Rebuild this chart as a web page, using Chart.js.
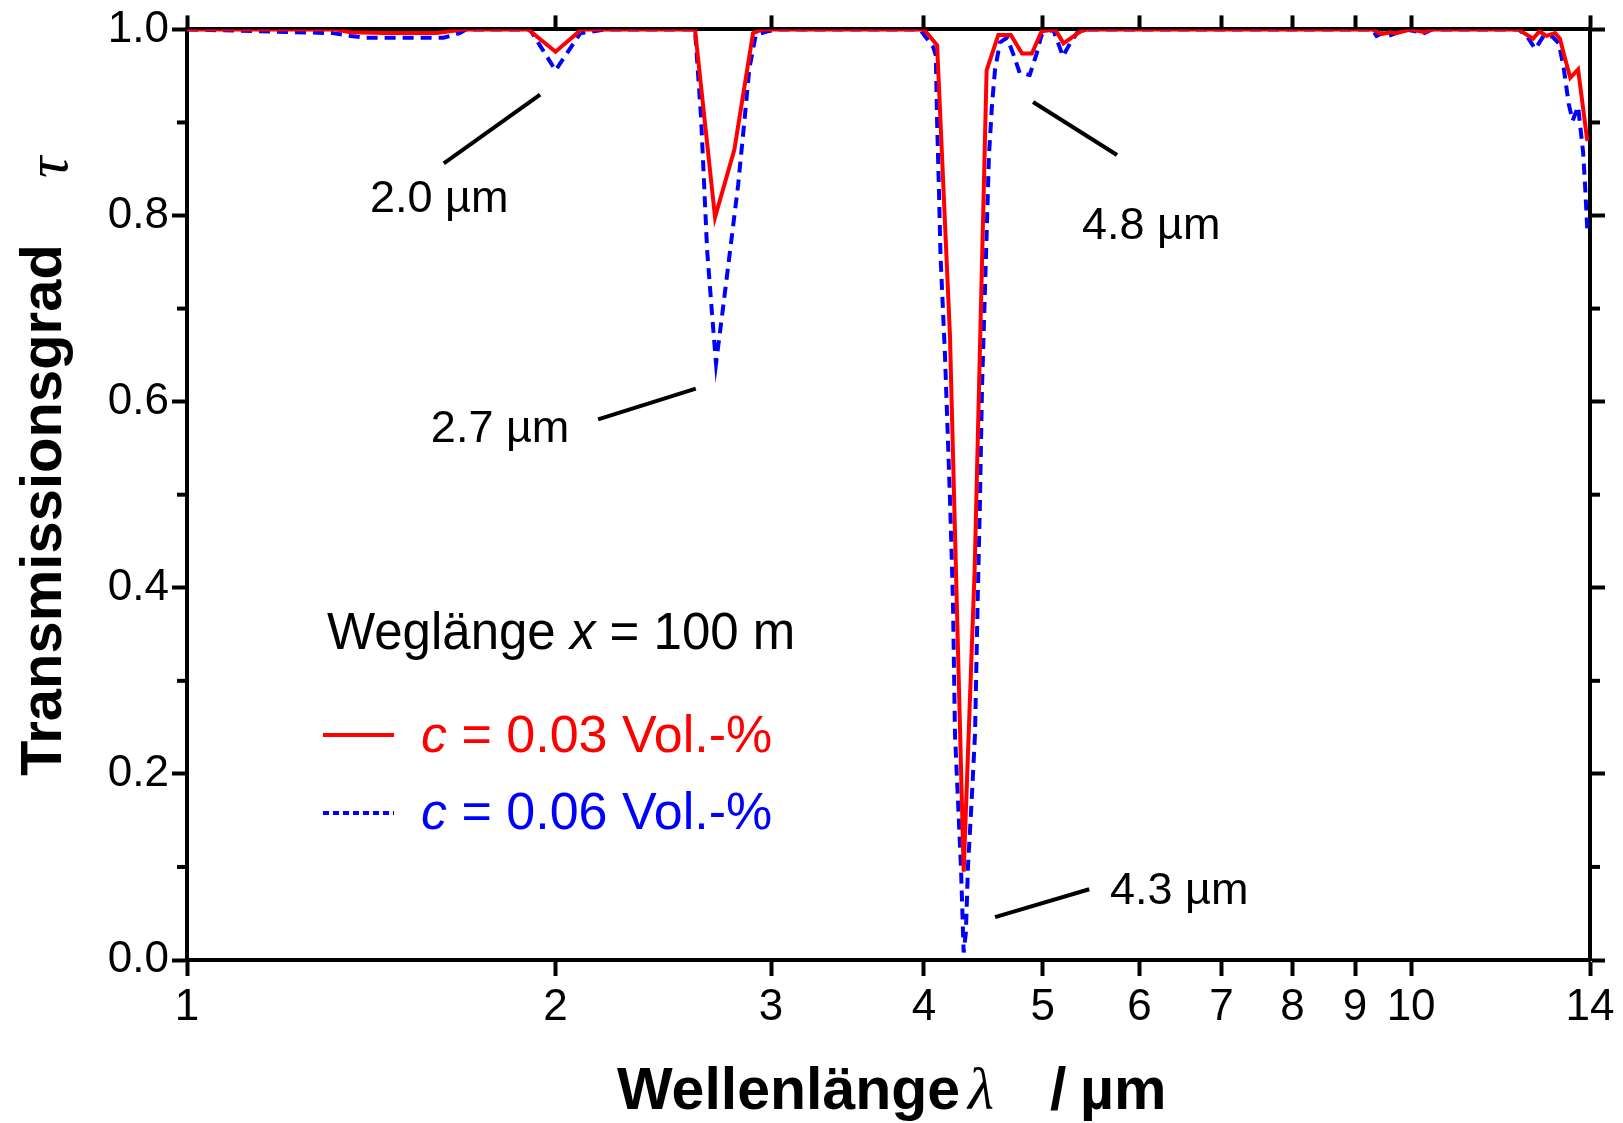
<!DOCTYPE html>
<html>
<head>
  <meta charset="UTF-8">
  <title>Transmissionsgrad CO2</title>
  <script src="https://cdn.jsdelivr.net/npm/chart.js"></script>
  <style>
    body { margin: 0; background: #fff; overflow: hidden; }
    canvas { display: block; }
  </style>
</head>
<body>
  <canvas id="chart" width="1623" height="1123"></canvas>

  <script>
    // Wellenlänge / µm und Transmissionsgrad, c = 0.03 Vol.-%
    const wlRed = [1.0, 1.32, 1.36, 1.45, 1.6, 1.68, 1.9, 2.0, 2.1, 2.2, 2.6, 2.7, 2.8, 2.9, 2.95,
      4.0, 4.1, 4.2, 4.31, 4.4, 4.5, 4.6, 4.71, 4.81, 4.9, 4.99, 5.12, 5.2, 5.37, 5.45,
      9.3, 9.45, 9.62, 9.72, 10.0, 10.25, 10.4,
      12.23, 12.58, 12.73, 12.9, 13.11, 13.23, 13.35, 13.49, 13.69, 13.93];
    const tauRed = [1.0, 1.0, 0.997, 0.996, 0.996, 1.0, 1.0, 0.976, 1.0, 1.0, 1.0, 0.798, 0.871, 0.996, 1.0,
      1.0, 0.983, 0.672, 0.095, 0.42, 0.956, 0.994, 0.994, 0.974, 0.974, 0.998, 1.0, 0.985, 0.998, 1.0,
      1.0, 0.995, 0.997, 0.996, 1.0, 0.997, 1.0,
      1.0, 0.99, 0.998, 0.993, 0.996, 0.99, 0.97, 0.948, 0.957, 0.88];

    // c = 0.06 Vol.-%
    const wlBlue = [1.0, 1.316, 1.36, 1.40, 1.62, 1.67, 1.69, 1.906, 2.0, 2.096, 2.2,
      2.6, 2.63, 2.66, 2.686, 2.705, 2.735, 2.778, 2.82, 2.855, 2.88, 2.915, 2.98, 3.05,
      3.97, 4.07, 4.09, 4.10, 4.114, 4.126, 4.161, 4.201, 4.224, 4.24, 4.288, 4.31,
      4.328, 4.345, 4.375, 4.403, 4.425, 4.444, 4.461, 4.495, 4.52, 4.546, 4.572, 4.615,
      4.676, 4.73, 4.79, 4.88, 4.944, 4.99, 5.1, 5.195, 5.264, 5.333, 5.4,
      9.3, 9.37, 9.47, 9.58, 9.72, 9.9, 10.25, 10.4,
      12.23, 12.43, 12.63, 12.83, 13.05, 13.2, 13.32, 13.45, 13.55, 13.69, 13.82, 13.87, 13.93];
    const tauBlue = [1.0, 0.996, 0.993, 0.991, 0.991, 0.996, 1.0, 1.0, 0.956, 0.996, 1.0,
      1.0, 0.905, 0.763, 0.691, 0.641, 0.691, 0.763, 0.833, 0.905, 0.958, 0.994, 0.998, 1.0,
      1.0, 0.981, 0.972, 0.90, 0.828, 0.758, 0.65, 0.493, 0.386, 0.243, 0.10, 0.008,
      0.03, 0.10, 0.171, 0.243, 0.386, 0.493, 0.614, 0.758, 0.865, 0.919, 0.957, 0.986,
      0.991, 0.974, 0.953, 0.951, 0.974, 0.994, 1.0, 0.971, 0.985, 0.996, 1.0,
      1.0, 0.993, 0.996, 0.993, 0.996, 1.0, 0.996, 1.0,
      1.0, 0.993, 0.979, 0.993, 0.992, 0.985, 0.96, 0.92, 0.902, 0.917, 0.868, 0.833, 0.784];

    const xTicks = [1, 2, 3, 4, 5, 6, 7, 8, 9, 10, 14];
    const yMinor = [0.1, 0.3, 0.5, 0.7, 0.9];

    // Bandenbeschriftungen (in Achsenwerten)
    const notes = [
      { text: '2.0 µm', x1: 1.621, y1: 0.856, x2: 1.943, y2: 0.930, tx: 1.411, ty: 0.804 },
      { text: '2.7 µm', x1: 2.167, y1: 0.581, x2: 2.604, y2: 0.614, tx: 1.582, ty: 0.557 },
      { text: '4.8 µm', x1: 4.911, y1: 0.922, x2: 5.751, y2: 0.865, tx: 5.384, ty: 0.775 },
      { text: '4.3 µm', x1: 4.572, y1: 0.046, x2: 5.458, y2: 0.076, tx: 5.675, ty: 0.060 }
    ];

    const SANS = "'Liberation Sans', Arial, Helvetica, sans-serif";
    const SERIF = "'Liberation Serif', 'DejaVu Serif', serif";
    Chart.defaults.font.family = SANS;
    Chart.defaults.color = '#000';

    function toPoints(xs, ys) {
      return xs.map((v, i) => ({ x: v, y: ys[i] }));
    }

    function line(ctx, x1, y1, x2, y2) {
      ctx.beginPath();
      ctx.moveTo(x1, y1);
      ctx.lineTo(x2, y2);
      ctx.stroke();
    }

    const decor = {
      id: 'decor',
      afterDraw(chart) {
        const ctx = chart.ctx;
        const a = chart.chartArea;
        const x = chart.scales.x;
        const y = chart.scales.y;
        ctx.save();
        ctx.strokeStyle = '#000';
        ctx.fillStyle = '#000';
        ctx.lineWidth = 4;
        ctx.lineCap = 'butt';

        // kleine Teilstriche links und rechts
        yMinor.forEach(v => {
          const py = y.getPixelForValue(v);
          line(ctx, a.left - 10, py, a.left, py);
          line(ctx, a.right, py, a.right + 10, py);
        });

        // Beschriftung der Banden
        ctx.font = '45px ' + SANS;
        ctx.textBaseline = 'alphabetic';
        ctx.textAlign = 'left';
        notes.forEach(n => {
          line(ctx, x.getPixelForValue(n.x1), y.getPixelForValue(n.y1),
                    x.getPixelForValue(n.x2), y.getPixelForValue(n.y2));
          ctx.fillText(n.text, x.getPixelForValue(n.tx), y.getPixelForValue(n.ty));
        });

        // Legende
        let px = 327;
        ctx.font = '51px ' + SANS;
        ctx.fillText('Weglänge ', px, 649);
        px += ctx.measureText('Weglänge ').width;
        ctx.font = 'italic 51px ' + SANS;
        ctx.fillText('x', px, 649);
        px += ctx.measureText('x').width;
        ctx.font = '51px ' + SANS;
        ctx.fillText(' = 100 m', px, 649);

        const entries = [
          { color: '#ff0000', dash: [], ly: 735, ty: 752, text: ' = 0.03 Vol.-%' },
          { color: '#0000ff', dash: [6, 4], ly: 813, ty: 829, text: ' = 0.06 Vol.-%' }
        ];
        entries.forEach(e => {
          ctx.strokeStyle = e.color;
          ctx.fillStyle = e.color;
          ctx.setLineDash(e.dash);
          line(ctx, 323, e.ly, 394, e.ly);
          ctx.setLineDash([]);
          ctx.font = 'italic 52px ' + SANS;
          ctx.fillText('c', 421, e.ty);
          const w = ctx.measureText('c').width;
          ctx.font = '52px ' + SANS;
          ctx.fillText(e.text, 421 + w, e.ty);
        });

        // Achsentitel x
        ctx.fillStyle = '#000';
        ctx.font = 'bold 59px ' + SANS;
        ctx.fillText('Wellenlänge', 617, 1109);
        ctx.font = 'italic 60px ' + SERIF;
        ctx.fillText('λ', 968, 1109);
        ctx.font = 'bold 59px ' + SANS;
        ctx.fillText('/', 1050, 1109);
        ctx.fillText('µm', 1080, 1109);

        // Achsentitel y
        ctx.save();
        ctx.translate(61, 776);
        ctx.rotate(-Math.PI / 2);
        ctx.font = 'bold 58px ' + SANS;
        ctx.fillText('Transmissionsgrad', 0, 0);
        ctx.restore();
        ctx.save();
        ctx.translate(67, 178);
        ctx.rotate(-Math.PI / 2);
        ctx.font = 'italic 60px ' + SERIF;
        ctx.fillText('τ', 0, 0);
        ctx.restore();

        ctx.restore();
      }
    };

    const setXTicks = s => { s.ticks = xTicks.map(v => ({ value: v })); };
    const frameGrid = len => ({ drawOnChartArea: false, drawTicks: true, tickLength: len, tickWidth: 4, tickColor: '#000' });
    const frameBorder = { display: true, width: 4, color: '#000' };

    const ctx = document.getElementById('chart').getContext('2d');
    const chart = new Chart(ctx, {
      type: 'line',
      data: {
        datasets: [
          {
            label: 'c = 0.03 Vol.-%',
            data: toPoints(wlRed, tauRed),
            borderColor: '#ff0000',
            borderWidth: 4,
            pointRadius: 0,
            fill: false,
            tension: 0,
            order: 1
          },
          {
            label: 'c = 0.06 Vol.-%',
            data: toPoints(wlBlue, tauBlue),
            borderColor: '#0000ff',
            borderWidth: 4,
            borderDash: [11, 7],
            pointRadius: 0,
            fill: false,
            tension: 0,
            order: 2
          }
        ]
      },
      options: {
        responsive: false,
        animation: false,
        devicePixelRatio: 1,
        layout: { padding: 0 },
        plugins: { legend: { display: false }, tooltip: { enabled: false } },
        scales: {
          x: {
            type: 'logarithmic', position: 'bottom', min: 1, max: 14,
            afterBuildTicks: setXTicks,
            afterFit: s => { s.height = 163; },
            ticks: { autoSkip: false, maxRotation: 0, padding: 5, font: { size: 44 }, callback: v => String(v) },
            grid: frameGrid(16),
            border: frameBorder
          },
          xTop: {
            type: 'logarithmic', position: 'top', min: 1, max: 14,
            afterBuildTicks: setXTicks,
            afterFit: s => { s.height = 27; },
            ticks: { display: false },
            grid: frameGrid(14),
            border: frameBorder
          },
          y: {
            type: 'linear', position: 'left', min: 0, max: 1,
            afterFit: s => { s.width = 187; },
            ticks: { stepSize: 0.2, padding: 3, font: { size: 44 }, callback: v => v.toFixed(1) },
            grid: frameGrid(15),
            border: frameBorder
          },
          yRight: {
            type: 'linear', position: 'right', min: 0, max: 1,
            afterFit: s => { s.width = 33; },
            ticks: { display: false, stepSize: 0.2 },
            grid: frameGrid(15),
            border: frameBorder
          }
        }
      },
      plugins: [decor]
    });
  </script>
</body>
</html>
